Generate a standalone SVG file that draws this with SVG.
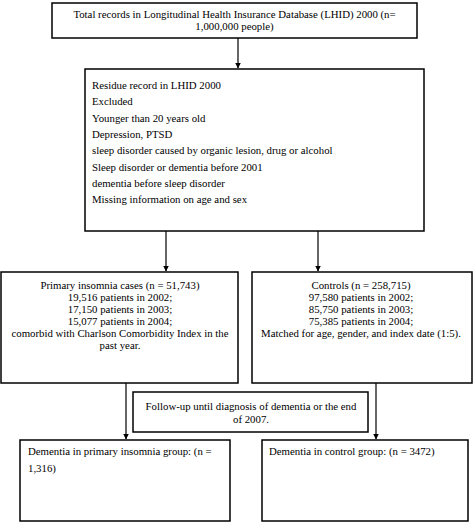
<svg xmlns="http://www.w3.org/2000/svg" width="474" height="522" viewBox="0 0 474 522">
<style>
.box{fill:#fff;stroke:#000;stroke-width:1.5}
.t{font-family:"Liberation Serif","Times New Roman",serif;font-size:10.8px;fill:#000}
.c{text-anchor:middle}
.ln{stroke:#000;stroke-width:1.2;fill:none}
</style>
<defs>
<marker id="ah" markerWidth="6" markerHeight="8" refX="5.5" refY="3" orient="auto" markerUnits="userSpaceOnUse" viewBox="0 0 6 6">
<path d="M0,0 L6,3 L0,6 Z" fill="#000"/>
</marker>
</defs>
<rect width="474" height="522" fill="#fff"/>
<g id="connectors">
<line class="ln" x1="238" y1="38" x2="238" y2="68" marker-end="url(#ah)"/>
<line class="ln" x1="166" y1="231" x2="166" y2="271" marker-end="url(#ah)"/>
<line class="ln" x1="318" y1="231" x2="318" y2="271" marker-end="url(#ah)"/>
<line class="ln" x1="126" y1="383" x2="126" y2="439" marker-end="url(#ah)"/>
<line class="ln" x1="376" y1="383" x2="376" y2="439" marker-end="url(#ah)"/>
</g>
<g id="total">
<rect class="box" x="52" y="3" width="365" height="35"/>
<text class="t c" x="234.5" y="18">Total records in Longitudinal Health Insurance Database (LHID) 2000 (n=</text>
<text class="t c" x="234.5" y="30">1,000,000 people)</text>
</g>
<g id="residue">
<rect class="box" x="85" y="69" width="339" height="162"/>
<text class="t" x="92" y="89">Residue record in LHID 2000</text>
<text class="t" x="92" y="105.3">Excluded</text>
<text class="t" x="92" y="121.6">Younger than 20 years old</text>
<text class="t" x="92" y="137.9">Depression, PTSD</text>
<text class="t" x="92" y="154.2">sleep disorder caused by organic lesion, drug or alcohol</text>
<text class="t" x="92" y="170.5">Sleep disorder or dementia before 2001</text>
<text class="t" x="92" y="186.8">dementia before sleep disorder</text>
<text class="t" x="92" y="203.1">Missing information on age and sex</text>
</g>
<g id="cases">
<rect class="box" x="1" y="272" width="237" height="111"/>
<text class="t c" x="120" y="289">Primary insomnia cases (n = 51,743)</text>
<text class="t c" x="120" y="301">19,516 patients in 2002;</text>
<text class="t c" x="120" y="313">17,150 patients in 2003;</text>
<text class="t c" x="120" y="325">15,077 patients in 2004;</text>
<text class="t c" x="120" y="337">comorbid with Charlson Comorbidity Index in the</text>
<text class="t c" x="120" y="349">past year.</text>
</g>
<g id="controls">
<rect class="box" x="252" y="272" width="220" height="111"/>
<text class="t c" x="361" y="289">Controls (n = 258,715)</text>
<text class="t c" x="361" y="301">97,580 patients in 2002;</text>
<text class="t c" x="361" y="313">85,750 patients in 2003;</text>
<text class="t c" x="361" y="325">75,385 patients in 2004;</text>
<text class="t c" x="361" y="337">Matched for age, gender, and index date (1:5).</text>
</g>
<g id="followup">
<rect class="box" x="133" y="392" width="235" height="40" stroke-width="2"/>
<text class="t c" x="251" y="409.5">Follow-up until diagnosis of dementia or the end</text>
<text class="t c" x="251" y="422.5">of 2007.</text>
</g>
<g id="dementia-cases">
<rect class="box" x="20" y="440" width="210" height="81"/>
<text class="t" x="28" y="455">Dementia in primary insomnia group: (n =</text>
<text class="t" x="28" y="472">1,316)</text>
</g>
<g id="dementia-controls">
<rect class="box" x="262" y="440" width="206" height="81"/>
<text class="t" x="269" y="455">Dementia in control group: (n = 3472)</text>
</g>
</svg>
